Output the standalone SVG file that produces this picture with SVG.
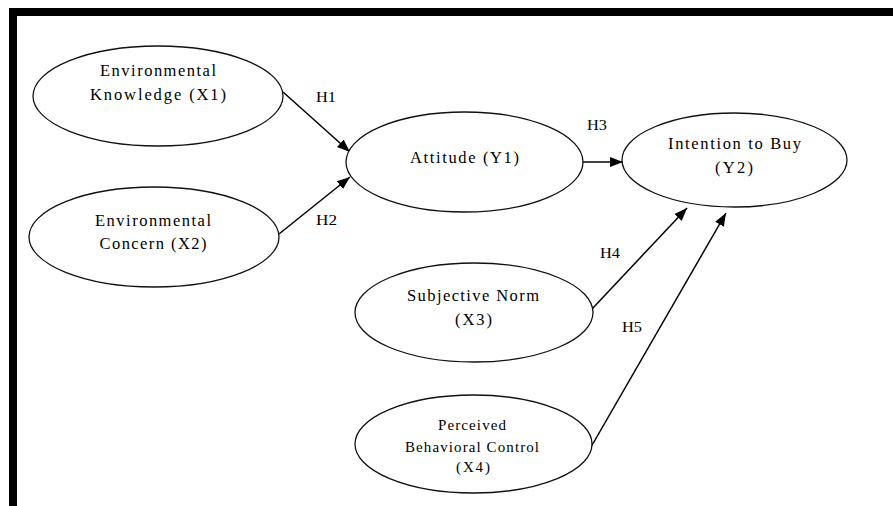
<svg xmlns="http://www.w3.org/2000/svg" width="893" height="506" viewBox="0 0 893 506" font-family="'Liberation Serif', 'Times New Roman', Times, serif">
<style>
.node ellipse{fill:#fff;stroke:#111;stroke-width:1.3}
text{font-family:'Liberation Serif','Times New Roman',Times,serif;font-size:16.5px;fill:#000;text-anchor:middle}
.small{font-size:15px}
.lbl{font-size:15px;text-anchor:start}
.conn line{stroke:#000;stroke-width:1.5;marker-end:url(#arr)}
</style>
<defs>
<marker id="arr" markerUnits="userSpaceOnUse" markerWidth="13" markerHeight="10" refX="13" refY="5" orient="auto">
<path d="M0,0 L13,5 L0,10 z" fill="#000"/>
</marker>
</defs>
<rect x="0" y="0" width="893" height="506" fill="#fff"/>
<rect x="9" y="8" width="884" height="8" fill="#000"/>
<rect x="9" y="8" width="8" height="498" fill="#000"/>
<g class="conn">
<line x1="283" y1="92" x2="350" y2="152"/>
<line x1="279" y1="234" x2="350" y2="177"/>
<line x1="583" y1="162" x2="623" y2="162"/>
<line x1="592" y1="309" x2="687" y2="208"/>
<line x1="591" y1="447" x2="726" y2="213"/>
</g>
<g id="labels">
<text class="lbl" x="316" y="102" textLength="20" lengthAdjust="spacingAndGlyphs">H1</text>
<text class="lbl" x="316" y="225" textLength="21" lengthAdjust="spacingAndGlyphs">H2</text>
<text class="lbl" x="587" y="130" textLength="20" lengthAdjust="spacingAndGlyphs">H3</text>
<text class="lbl" x="600" y="258" textLength="20" lengthAdjust="spacingAndGlyphs">H4</text>
<text class="lbl" x="622" y="332" textLength="20" lengthAdjust="spacingAndGlyphs">H5</text>
</g>
<g id="x1" class="node">
<ellipse cx="158" cy="96" rx="125" ry="50"/>
<text x="158" y="76" textLength="116" lengthAdjust="spacing">Environmental</text>
<text x="158" y="100" textLength="136" lengthAdjust="spacing">Knowledge (X1)</text>
</g>
<g id="x2" class="node">
<ellipse cx="154" cy="237" rx="125" ry="50"/>
<text x="153" y="226" textLength="116" lengthAdjust="spacing">Environmental</text>
<text x="153" y="249" textLength="107" lengthAdjust="spacing">Concern (X2)</text>
</g>
<g id="y1" class="node">
<ellipse cx="464.5" cy="162" rx="118.5" ry="50"/>
<text x="464.5" y="163" textLength="109" lengthAdjust="spacing">Attitude (Y1)</text>
</g>
<g id="y2" class="node">
<ellipse cx="734.5" cy="160" rx="112.5" ry="47"/>
<text x="734.5" y="149" textLength="133" lengthAdjust="spacing">Intention to Buy</text>
<text x="734" y="173" textLength="38" lengthAdjust="spacing">(Y2)</text>
</g>
<g id="x3" class="node">
<ellipse cx="474" cy="312.5" rx="119" ry="49.5"/>
<text x="473" y="301" textLength="132" lengthAdjust="spacing">Subjective Norm</text>
<text x="473.5" y="325" textLength="37" lengthAdjust="spacing">(X3)</text>
</g>
<g id="x4" class="node">
<ellipse cx="473.5" cy="444" rx="118.5" ry="49"/>
<text class="small" x="472" y="430" textLength="68" lengthAdjust="spacing">Perceived</text>
<text class="small" x="472" y="452" textLength="134" lengthAdjust="spacing">Behavioral Control</text>
<text class="small" x="473" y="472" textLength="34" lengthAdjust="spacing">(X4)</text>
</g>
</svg>
